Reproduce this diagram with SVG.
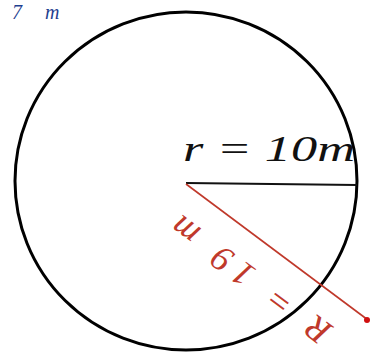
<svg xmlns="http://www.w3.org/2000/svg" width="370" height="356" viewBox="0 0 370 356">
<style>
.hand{font-family:"Liberation Serif",serif;font-style:italic}
</style>
<rect width="370" height="356" fill="#ffffff"/>
<text class="hand" x="12" y="19" font-size="20" fill="#1f3f8f" word-spacing="18">7 m</text>
<ellipse cx="186" cy="181" rx="171" ry="169" fill="none" stroke="#000" stroke-width="3"/>
<line x1="186" y1="183" x2="357" y2="185" stroke="#111" stroke-width="2"/>
<text class="hand" x="183" y="161" font-size="36" fill="#111" textLength="172" lengthAdjust="spacingAndGlyphs">r = 10m</text>
<line x1="186" y1="184" x2="368" y2="320" stroke="#c0392b" stroke-width="1.6"/>
<circle cx="367" cy="320" r="3" fill="#d01010"/>
<text class="hand" transform="translate(334,327) rotate(216.6)" font-size="36" fill="#c0392b" textLength="190" lengthAdjust="spacing">R = 19 m</text>
</svg>
